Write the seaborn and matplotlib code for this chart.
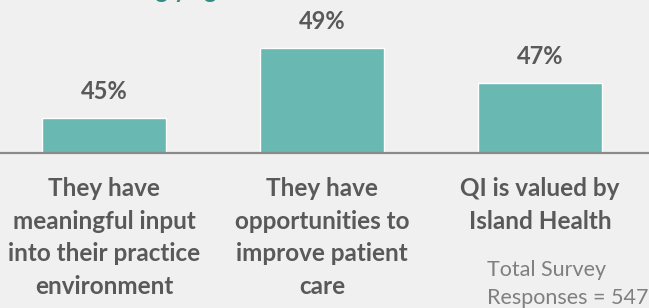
import matplotlib
matplotlib.use('Agg')
import matplotlib.pyplot as plt
import seaborn as sns

categories = ['They have\nmeaningful input\ninto their practice\nenvironment',
              'They have\nopportunities to\nimprove patient\ncare',
              'QI is valued by\nIsland Health']
values = [45, 49, 47]
note = 'Total Survey\nResponses = 547'
title = 'Strongly agree'

BG = '#f0f0f0'
BAR = '#69b8b2'
TEXT = '#595959'

sns.set_theme(style='white')
plt.rcParams['font.family'] = ['Lato', 'DejaVu Sans']

fig = plt.figure(figsize=(6.49, 3.08), dpi=100, facecolor=BG)
ax = fig.add_axes([0, 0.5039, 1, 0.4961])
ax.set_facecolor(BG)

sns.barplot(x=categories, y=values, color=BAR, width=0.571, saturation=1, ax=ax)

ax.set_ylim(43.02, 51.78)
ax.set_xlim(-0.477, 2.5)

for i, v in enumerate(values):
    ax.text(i, v + 1.55, f'{v}%', ha='center', va='center',
            fontsize=17, fontweight='bold', color=TEXT)

for s in ['top', 'left', 'right']:
    ax.spines[s].set_visible(False)
ax.spines['bottom'].set_color('#8a8a8a')
ax.spines['bottom'].set_linewidth(1.6)

ax.set_yticks([])
ax.tick_params(axis='x', length=0, pad=17.5)
for lbl in ax.get_xticklabels():
    lbl.set_fontsize(17.5)
    lbl.set_fontweight('bold')
    lbl.set_color(TEXT)
    lbl.set_linespacing(1.5)

fig.text(487 / 649, 1 - 259.5 / 308, note, ha='left', va='top',
         fontsize=15.5, color='#7f7f7f', linespacing=1.5)

# title cut off at the top edge, only the descenders show
fig.text(98 / 649, 1.005, title, ha='left', va='baseline',
         fontsize=17, fontweight='bold', color='#2f8c87')

plt.savefig('out.png', dpi=100, facecolor=BG)
